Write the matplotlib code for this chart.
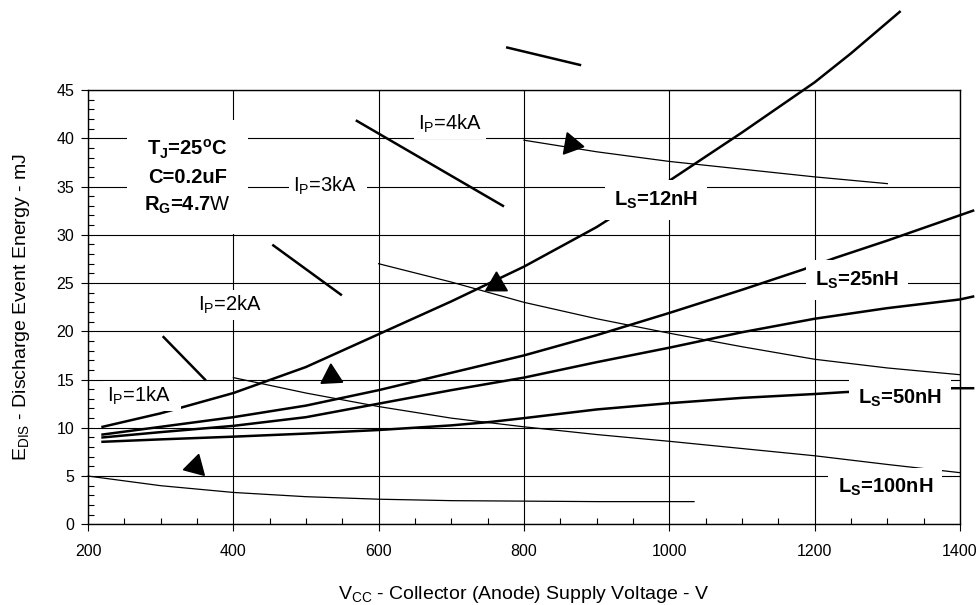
import matplotlib
matplotlib.use("Agg")
import matplotlib.pyplot as plt
from matplotlib.ticker import MultipleLocator

plt.rcParams['font.family'] = ['Liberation Sans', 'DejaVu Sans']
plt.rcParams['mathtext.fontset'] = 'custom'
plt.rcParams['mathtext.rm'] = 'Liberation Sans'
plt.rcParams['mathtext.it'] = 'Liberation Sans:italic'
plt.rcParams['mathtext.bf'] = 'Liberation Sans:bold'

# =========================================================
# DATA
# =========================================================

# thick curves: discharge energy vs supply voltage for different L_S
ls12_v = [220, 300, 400, 500, 600, 700, 750, 800, 900, 1000, 1100, 1200, 1250, 1317]
ls12_e = [10.1, 11.5, 13.6, 16.3, 19.7, 23.1, 24.9, 26.7, 30.8, 35.6, 40.6, 45.8, 48.8, 53.1]

ls25_v = [220, 300, 400, 500, 600, 700, 800, 900, 1000, 1100, 1184, 1228, 1300, 1418]
ls25_e = [9.3, 10.1, 11.1, 12.3, 13.9, 15.7, 17.5, 19.6, 21.9, 24.3, 26.4, 27.6, 29.4, 32.5]

ls50_v = [220, 300, 400, 500, 600, 700, 800, 900, 1000, 1100, 1200, 1300, 1400, 1418]
ls50_e = [9.0, 9.55, 10.2, 11.1, 12.5, 13.9, 15.2, 16.8, 18.3, 19.9, 21.3, 22.4, 23.3, 23.6]

ls100_v = [220, 300, 400, 500, 600, 700, 753, 800, 900, 1000, 1100, 1200, 1242, 1300, 1390, 1418]
ls100_e = [8.55, 8.8, 9.08, 9.4, 9.77, 10.25, 10.6, 11.0, 11.9, 12.55, 13.1, 13.5, 13.7, 13.9, 14.1, 14.1]

# thin curves: constant peak current
ip1_v = [200, 300, 400, 500, 600, 700, 800, 900, 1034]
ip1_e = [5.0, 4.0, 3.3, 2.86, 2.6, 2.45, 2.4, 2.35, 2.35]

ip2_v = [400, 500, 600, 700, 800, 900, 1000, 1100, 1200, 1300, 1400]
ip2_e = [15.2, 13.6, 12.2, 11.0, 10.1, 9.3, 8.6, 7.85, 7.1, 6.2, 5.35]

ip3_v = [600, 700, 800, 900, 1000, 1100, 1200, 1300, 1400]
ip3_e = [27.0, 25.1, 23.0, 21.3, 19.8, 18.4, 17.1, 16.2, 15.5]

ip4_v = [800, 900, 1000, 1100, 1200, 1300]
ip4_e = [39.8, 38.6, 37.6, 36.8, 36.0, 35.3]

# short thick leader segments next to the I_P labels
lead_v = [[304, 361], [455, 548], [570, 771], [777, 877]]
lead_e = [[19.4, 15.0], [28.9, 23.8], [41.8, 33.0], [49.4, 47.6]]

# arrow heads (triangles) along the curves
arrow_v = [865, 761, 534, 347]
arrow_e = [39.4, 24.9, 15.4, 6.05]
arrow_rot = [-100, 0, 3, 105]

x_ticks = [200, 400, 600, 800, 1000, 1200, 1400]
y_ticks = [0, 5, 10, 15, 20, 25, 30, 35, 40, 45]

# =========================================================
# FIGURE
# =========================================================

fig = plt.figure(figsize=(9.8, 6.05), dpi=100)
ax = fig.add_axes([0.0898, 0.1334, 0.8898, 0.7178])

ax.set_xlim(200, 1400)
ax.set_ylim(0, 45)
ax.set_xticks(x_ticks)
ax.set_yticks(y_ticks)
ax.xaxis.set_minor_locator(MultipleLocator(50))
ax.yaxis.set_minor_locator(MultipleLocator(1))
ax.tick_params(which='major', direction='out', length=5, width=0.8,
               labelsize=11.5, color='k')
ax.tick_params(which='minor', direction='in', length=4, width=0.8, color='k')
ax.tick_params(axis='x', which='major', pad=9)
ax.tick_params(axis='y', which='major', pad=5)
ax.grid(True, which='major', color='k', linewidth=0.8)
ax.set_axisbelow(True)
for sp in ax.spines.values():
    sp.set_linewidth(1.0)
    sp.set_zorder(5)

# thick L_S curves
for v, e in [(ls12_v, ls12_e), (ls25_v, ls25_e), (ls50_v, ls50_e), (ls100_v, ls100_e)]:
    ax.plot(v, e, color='k', linewidth=1.8, clip_on=False, zorder=2,
            solid_joinstyle='round')

# thin I_P curves
for v, e in [(ip1_v, ip1_e), (ip2_v, ip2_e), (ip3_v, ip3_e), (ip4_v, ip4_e)]:
    ax.plot(v, e, color='k', linewidth=0.9, clip_on=False, zorder=2)

for v, e in zip(lead_v, lead_e):
    ax.plot(v, e, color='k', linewidth=1.8, clip_on=False, zorder=2)

for v, e, r in zip(arrow_v, arrow_e, arrow_rot):
    ax.plot(v, e, linestyle='none', marker=(3, 0, r), markersize=18,
            color='k', clip_on=False, zorder=3)

# =========================================================
# LABELS
# =========================================================

ax.text(337, 36.0, 'T$_\\mathregular{J}$=25$^\\mathregular{o}$C\nC=0.2uF\nR$_\\mathregular{G}$=4.7$\\mathrm{W}$',
        ha='center', va='center', fontsize=14.5, fontweight='bold',
        linespacing=1.5, zorder=4,
        bbox=dict(facecolor='white', edgecolor='none', boxstyle='square,pad=0.85'))

# I_P labels: box is a bit wider on the right side (trailing space)
ip_labels = [('I$_\\mathregular{P}$=1kA  ', 226, 13.3),
             ('I$_\\mathregular{P}$=2kA ', 351, 22.7),
             ('I$_\\mathregular{P}$=3kA  ', 482, 35.1),
             ('I$_\\mathregular{P}$=4kA ', 654, 41.5)]
for s, x, y in ip_labels:
    ax.text(x, y, s, ha='left', va='center', fontsize=14.5, zorder=4,
            bbox=dict(facecolor='white', edgecolor='none', boxstyle='square,pad=0.2'))

ls_labels = [('L$_\\mathregular{S}$=12nH', 982, 33.6),
             ('L$_\\mathregular{S}$=25nH', 1258, 25.3),
             ('L$_\\mathregular{S}$=50nH', 1317, 13.1),
             ('L$_\\mathregular{S}$=100nH', 1297, 3.8)]
for s, x, y in ls_labels:
    ax.text(x, y, s, ha='center', va='center', fontsize=14.5, fontweight='bold',
            zorder=4, bbox=dict(facecolor='white', edgecolor='none',
                                boxstyle='square,pad=0.45'))

ax.set_xlabel('V$_\\mathregular{CC}$ - Collector (Anode) Supply Voltage - V', fontsize=14)
ax.set_ylabel('E$_\\mathregular{DIS}$ - Discharge Event Energy - mJ', fontsize=14)
ax.xaxis.set_label_coords(0.5, -0.1375)
ax.yaxis.set_label_coords(-0.064, 0.5)

fig.savefig('out.png', dpi=100)
